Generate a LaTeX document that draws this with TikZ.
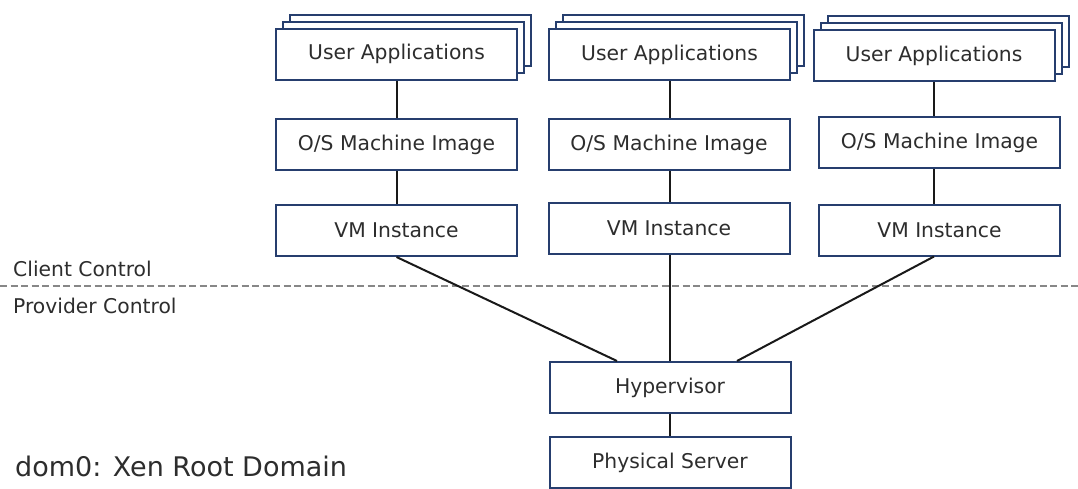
\documentclass[tikz,border=0pt]{standalone}
\usepackage{fontspec}
\setmainfont{DejaVu Sans}
\usetikzlibrary{shadows}
\definecolor{boxblue}{RGB}{38,62,110}
\definecolor{txtgray}{RGB}{45,45,45}
\definecolor{dashgray}{RGB}{135,135,135}
\tikzset{
  layer/.style={draw=boxblue, line width=2pt, fill=white, text=txtgray,
    minimum width=241pt, minimum height=51pt, inner sep=0pt,
    font=\fontsize{20.3}{24}\selectfont},
  apps/.style={layer,
    copy shadow={shadow xshift=14pt, shadow yshift=14pt, draw=boxblue, fill=white},
    copy shadow={shadow xshift=7pt, shadow yshift=7pt, draw=boxblue, fill=white}},
  link/.style={line width=2pt, black!90},
  ctrl/.style={anchor=base west, inner sep=0pt, text=txtgray,
    font=\fontsize{20.3}{24}\selectfont}
}
\begin{document}
\begin{tikzpicture}[x=1pt, y=-1pt]
          \useasboundingbox (0,0) rectangle (1078,488);

          % client side
          \node[apps]  (ua1) at (396.5,54)  {User Applications};
          \node[layer] (os1) at (396.5,144.5) {O/S Machine Image};
          \node[layer] (vm1) at (396.5,230.5) {VM Instance};

          \node[apps]  (ua2) at (669.5,54.5)  {User Applications};
          \node[layer] (os2) at (669,144.5) {O/S Machine Image};
          \node[layer] (vm2) at (669,228.5) {VM Instance};

          \node[apps]  (ua3) at (934,55.5)  {User Applications};
          \node[layer] (os3) at (939.5,142.5) {O/S Machine Image};
          \node[layer] (vm3) at (939.5,230) {VM Instance};

          % provider side
          \node[layer] (hyp) at (670,387.5) {Hypervisor};
          \node[layer] (srv) at (670,462.5) {Physical Server};

          \coordinate (dl) at (0,286);
          \coordinate (dr) at (1078,286);
          \draw[dashgray, line width=1.5pt, dash pattern=on 7pt off 3.5pt] (dl) -- (dr);

          \node[ctrl] (cc) at (13,276.5) {Client Control};
          \node[ctrl] (pc) at (13,313) {Provider Control};
          \node[anchor=base west, inner sep=0pt, text=txtgray,
                font=\fontsize{27}{32}\selectfont] (dom) at (15,476.5) {dom0: Xen Root Domain};

          \draw[link] (ua1) -- (os1);
          \draw[link] (os1) -- (vm1);
          \draw[link] (ua2.south) -- (ua2.south |- os2.north);
          \draw[link] (os2.south -| ua2.south) -- (ua2.south |- vm2.north);
          \draw[link] (ua3.south) -- (ua3.south |- os3.north);
          \draw[link] (os3.south -| ua3.south) -- (ua3.south |- vm3.north);

          \draw[link] (vm1.south) -- ([xshift=-53pt]hyp.north);
          \draw[link] (vm2.south -| hyp.north) -- (hyp.north);
          \draw[link] ([xshift=-5.5pt]vm3.south) -- ([xshift=67pt]hyp.north);
          \draw[link] (hyp) -- (srv);
        \end{tikzpicture}
\end{document}
